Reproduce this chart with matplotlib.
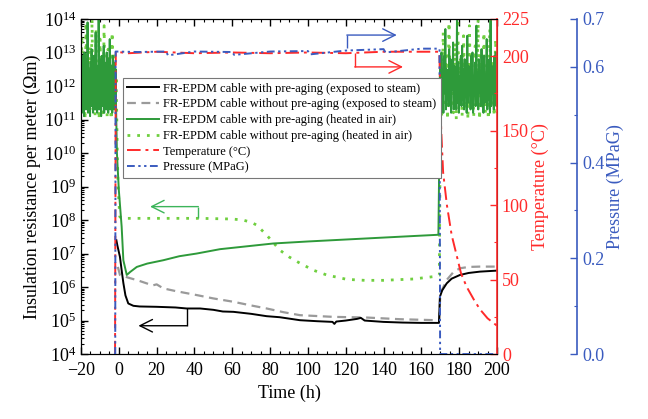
import numpy as np
import matplotlib
matplotlib.use("Agg")
import matplotlib.pyplot as plt
from matplotlib.ticker import LogLocator, LogFormatterMathtext, MultipleLocator, FixedLocator, NullFormatter, FuncFormatter
from matplotlib.lines import Line2D

plt.rcParams['font.family'] = ['Liberation Serif', 'DejaVu Serif']
plt.rcParams['mathtext.fontset'] = 'custom'
plt.rcParams['mathtext.rm'] = 'Liberation Serif'
plt.rcParams['mathtext.it'] = 'Liberation Serif:italic'

# ---------------- data ----------------
# noisy readings (log10 of resistance) while the cable sits outside the chamber
pre_solid_log = [11.8, 12.6, 11.2, 12.9, 11.5, 12.3, 11.1, 13.0, 11.7, 12.4, 11.3, 12.8, 11.6, 13.9,
                 11.2, 12.5, 11.9, 12.2, 11.1, 12.7, 11.4, 13.1, 11.6, 12.0, 11.2, 12.9, 11.8, 12.4,
                 11.3, 13.6, 11.5, 12.6, 11.2, 12.1, 11.7, 14.0, 11.3, 12.8, 11.6, 12.3, 11.1, 12.9,
                 11.4, 12.5, 11.8, 13.2, 11.2, 12.7, 11.5, 12.2, 11.3, 13.0, 11.7, 12.4, 11.2, 12.8,
                 11.6, 13.4, 11.3, 12.6, 11.4, 12.1, 11.2, 12.9, 11.6, 12.3, 11.3, 12.7, 11.5, 12.5]
post_solid_log = [11.9, 12.7, 11.4, 13.0, 11.6, 12.3, 11.2, 12.9, 11.8, 13.7, 11.3, 12.5, 11.7, 12.2,
                  11.4, 13.1, 11.5, 12.8, 11.2, 12.4, 11.9, 13.3, 11.3, 12.6, 11.6, 12.1, 11.3, 14.0,
                  11.5, 12.7, 11.2, 12.3, 11.8, 12.9, 11.4, 13.2, 11.6, 12.5, 11.3, 12.8, 11.7, 12.2,
                  11.2, 13.5, 11.5, 12.6, 11.9, 12.4, 11.3, 12.9, 11.6, 13.0, 11.2, 12.3, 11.7, 12.7,
                  11.4, 13.8, 11.5, 12.4, 11.3, 12.8, 11.8, 12.2, 11.4, 13.1, 11.6, 12.6, 11.2, 12.9,
                  11.5, 12.3, 11.7, 13.4, 11.3, 12.5, 11.6, 12.8, 11.2, 14.0, 11.4, 12.6, 11.8, 12.2,
                  11.3, 12.9, 11.5, 13.0, 11.4, 12.7]
pre_dotted_log = [12.2, 13.5, 11.4, 12.8, 11.0, 13.9, 11.6, 12.4, 11.2, 13.2, 11.8, 14.0, 11.3, 12.9,
                  11.1, 13.7, 11.5, 12.6, 11.0, 13.4, 11.7, 12.2, 11.2, 13.8, 11.4, 12.7, 11.1, 13.1,
                  11.6, 12.5, 11.0, 13.6, 11.3, 12.9, 11.5, 12.3]
post_dotted_log = [12.4, 11.1, 13.6, 11.5, 12.9, 11.0, 13.9, 11.4, 12.6, 11.2, 13.3, 11.0, 14.0, 11.6,
                   12.8, 11.1, 13.5, 11.3, 12.7, 11.0, 13.8, 11.5, 12.3, 11.1, 13.2, 11.4, 14.0, 11.0,
                   12.9, 11.3, 13.6, 11.2, 12.5, 11.0, 13.7, 11.4, 12.8, 11.1, 13.4, 11.2]

# FR-EPDM with pre-aging, heated in air (inside chamber)
air_aged_t = [-1.5, -1.0, -0.3, 0.0, 1.5, 2.4, 4.2, 6.0, 9.5, 15.0, 23.5, 32.0, 41.2, 53.5, 65.0,
              81.7, 100.0, 120.5, 140.0, 155.0, 166.3, 169.0, 169.3]
air_aged_log = [11.5, 10.0, 9.2, 8.9, 7.8, 6.8, 6.36, 6.45, 6.6, 6.7, 6.8, 6.92, 7.0, 7.13, 7.2,
                7.3, 7.36, 7.42, 7.48, 7.52, 7.55, 7.56, 9.0]

# FR-EPDM without pre-aging, heated in air (inside chamber)
air_new_t = [-1.2, -0.8, -0.4, 0.5, 1.5, 43.0, 60.0, 65.7, 70.0, 72.9, 78.2, 85.2, 90.0, 95.8,
             103.0, 109.9, 120.5, 130.0, 139.9, 155.7, 166.3, 169.5, 169.8]
air_new_log = [11.5, 10.0, 9.0, 8.1, 8.05, 8.05, 8.03, 8.0, 7.93, 7.85, 7.55, 7.1, 6.9, 6.71,
               6.5, 6.36, 6.23, 6.2, 6.2, 6.24, 6.31, 6.35, 9.0]

# FR-EPDM with pre-aging, exposed to steam
steam_aged_t = [-1.3, -0.8, 0.6, 1.5, 2.4, 3.5, 5.0, 7.7, 11.0, 20.0, 30.0, 35.9, 43.0, 50.0, 55.0,
                60.6, 70.0, 78.2, 85.0, 95.8, 105.0, 113.0, 114.0, 115.0, 120.0, 126.0, 128.0,
                130.0, 139.9, 150.0, 160.0, 169.3, 169.8, 171.0, 173.4, 176.0, 180.4, 185.0,
                191.0, 200.0]
steam_aged_log = [7.4, 7.25, 6.9, 6.5, 6.12, 5.75, 5.51, 5.44, 5.42, 5.41, 5.39, 5.36, 5.36, 5.32,
                  5.27, 5.26, 5.2, 5.13, 5.1, 5.01, 4.98, 4.96, 4.9, 4.97, 5.0, 5.05, 5.08, 5.0,
                  4.96, 4.94, 4.93, 4.93, 5.71, 5.9, 6.11, 6.25, 6.36, 6.42, 6.46, 6.49]

# FR-EPDM without pre-aging, exposed to steam
steam_new_t = [-0.5, 0.6, 5.0, 10.0, 14.7, 18.0, 20.0, 23.5, 30.0, 41.2, 50.0, 60.6, 70.0, 78.2,
               87.0, 95.8, 113.4, 131.0, 148.7, 168.0, 169.5, 170.0, 173.4, 177.0, 180.4, 185.0,
               191.0, 200.0]
steam_new_log = [6.6, 6.36, 6.28, 6.2, 6.11, 6.05, 6.08, 5.96, 5.88, 5.76, 5.66, 5.56, 5.45, 5.36,
                 5.25, 5.16, 5.11, 5.09, 5.04, 5.01, 5.01, 5.81, 6.21, 6.45, 6.56, 6.6, 6.61, 6.61]

# chamber temperature (degC)
temp_t = [-2.2, -2.0, -1.6, 5, 20, 40, 60, 80, 100, 120, 140, 160, 169.5, 170.0, 170.5, 171.5,
          173.5, 176.0, 178.7, 181.0, 184.0, 188.0, 191.0, 195.0, 200.0]
temp_c = [0, 0, 203, 202, 203, 202, 202.5, 202, 202.5, 202, 203, 203, 203, 175, 150, 122,
          100, 80, 66, 54, 45, 36, 30, 24, 19]

# chamber pressure (MPaG)
pres_t = [-2.3, -1.9, -1.7, 10, 25, 26, 40, 60, 61, 80, 100, 101, 120, 140, 141, 160, 169.6,
          169.9, 200]
pres_mpa = [0, 0, 0.632, 0.631, 0.632, 0.624, 0.632, 0.631, 0.625, 0.632, 0.633, 0.626, 0.634,
            0.637, 0.630, 0.638, 0.638, 0, 0]

x_ticks = [-20, 0, 20, 40, 60, 80, 100, 120, 140, 160, 180, 200]
temp_ticks = [0, 50, 100, 150, 200, 225]
pres_ticks = [0.0, 0.2, 0.4, 0.6, 0.7]

legend_labels = ["FR-EPDM cable with pre-aging (exposed to steam)",
                 "FR-EPDM cable without pre-aging (exposed to steam)",
                 "FR-EPDM cable with pre-aging (heated in air)",
                 "FR-EPDM cable without pre-aging (heated in air)",
                 "Temperature (\u00b0C)",
                 "Pressure (MPaG)"]

# ---------------- colours ----------------
c_black = "#000000"
c_gray = "#9a9a9a"
c_green = "#2e9a3a"
c_lgreen = "#6fcf3f"
c_red = "#ff2a2a"
c_blue = "#3a5bbf"

# ---------------- assemble series ----------------
pre_t_solid = np.linspace(-20, -1.6, len(pre_solid_log))
post_t_solid = np.linspace(169.6, 200, len(post_solid_log))
pre_t_dot = np.linspace(-20, -1.4, len(pre_dotted_log))
post_t_dot = np.linspace(170.0, 200, len(post_dotted_log))

g_solid_t = np.concatenate([pre_t_solid, air_aged_t, post_t_solid])
g_solid_y = 10.0 ** np.concatenate([pre_solid_log, air_aged_log, post_solid_log])
g_dot_t = np.concatenate([pre_t_dot, air_new_t, post_t_dot])
g_dot_y = 10.0 ** np.concatenate([pre_dotted_log, air_new_log, post_dotted_log])

# ---------------- figure ----------------
fig = plt.figure(figsize=(6.48, 4.19), dpi=100)
ax = fig.add_axes([0.125, 0.155, 0.642, 0.7997])
ax.set_yscale('log')
ax.set_xlim(-20, 200)
ax.set_ylim(1e4, 1e14)

ax.plot(g_dot_t, g_dot_y, color=c_lgreen, lw=2.0, linestyle=(0, (1, 2.5)), zorder=2)
ax.plot(g_solid_t, g_solid_y, color=c_green, lw=1.4, zorder=3)
ax.plot(steam_new_t, 10.0 ** np.array(steam_new_log), color=c_gray, lw=1.6,
        linestyle=(0, (4, 2.5)), zorder=4)
ax.plot(steam_aged_t, 10.0 ** np.array(steam_aged_log), color=c_black, lw=1.4, zorder=5)

ax.xaxis.set_major_locator(FixedLocator(x_ticks))
ax.xaxis.set_minor_locator(MultipleLocator(5))
ax.yaxis.set_major_locator(LogLocator(base=10, numticks=20))
ax.yaxis.set_minor_locator(LogLocator(base=10, subs=np.arange(2, 10), numticks=20))
ax.yaxis.set_minor_formatter(NullFormatter())
ax.yaxis.set_major_formatter(LogFormatterMathtext())
ax.tick_params(axis='both', which='both', direction='in', top=True, right=False,
               labelsize=13)
ax.tick_params(which='major', length=5, width=1)
ax.tick_params(which='minor', length=2.5, width=0.8)
ax.tick_params(axis='x', pad=6)
ax.set_xlabel("Time (h)", fontsize=13)
ax.set_ylabel("Insulation resistance per meter (\u03a9m)", fontsize=13, labelpad=2)

# temperature axis
ax2 = ax.twinx()
ax2.set_ylim(0, 225)
ax2.plot(temp_t, temp_c, color=c_red, lw=1.4, linestyle=(0, (7, 2.5, 1.5, 2.5)), zorder=6)
ax2.yaxis.set_major_locator(FixedLocator(temp_ticks))
ax2.yaxis.set_minor_locator(FixedLocator([25, 75, 125, 175]))
ax2.tick_params(axis='y', which='both', direction='in', colors=c_red, labelsize=13)
ax2.tick_params(axis='y', which='major', length=5, width=1)
ax2.tick_params(axis='y', which='minor', length=2.5, width=0.8)
ax2.spines['right'].set_color(c_red)
ax2.spines['right'].set_linewidth(1.2)
ax2.set_ylabel("Temperature (\u00b0C)", color=c_red, fontsize=13, labelpad=2)

# pressure axis, spine pushed 80 px to the right
ax3 = ax.twinx()
ax3.set_ylim(0, 0.7)
ax3.spines['right'].set_position(('outward', 57.6))
ax3.spines['right'].set_color(c_blue)
ax3.spines['right'].set_linewidth(1.2)
for s in ['top', 'left', 'bottom']:
    ax3.spines[s].set_visible(False)
ax3.plot(pres_t, pres_mpa, color=c_blue, lw=1.4,
         linestyle=(0, (4, 1.8, 1.2, 1.8, 1.2, 1.8)), zorder=7)
ax3.yaxis.set_major_locator(FixedLocator(pres_ticks))
ax3.yaxis.set_minor_locator(FixedLocator([0.1, 0.3, 0.5]))
ax3.yaxis.set_major_formatter(FuncFormatter(lambda v, p: f"{v:.1f}"))
ax3.tick_params(axis='y', which='both', direction='in', colors=c_blue, labelsize=13)
ax3.tick_params(axis='y', which='major', length=5, width=1)
ax3.tick_params(axis='y', which='minor', length=2.5, width=0.8)
ax3.set_ylabel("Pressure (MPaG)", color=c_blue, fontsize=13, labelpad=2)

# axis-pointer arrows
def pointer(axes, pts, color):
    xs = [p[0] for p in pts]
    ys = [p[1] for p in pts]
    axes.plot(xs[:-1], ys[:-1], color=color, lw=1.0, transform=axes.transAxes,
              solid_capstyle='butt', zorder=8)
    axes.annotate("", xy=pts[-1], xytext=pts[-2], xycoords='axes fraction',
                  textcoords='axes fraction',
                  arrowprops=dict(arrowstyle='->,head_length=0.9,head_width=0.45',
                                  color=color, lw=1.0, shrinkA=0, shrinkB=0), zorder=8)

pointer(ax3, [(0.639, 0.913), (0.639, 0.952), (0.759, 0.952)], c_blue)
pointer(ax3, [(0.658, 0.898), (0.658, 0.857), (0.774, 0.857)], c_red)
pointer(ax3, [(0.282, 0.406), (0.282, 0.440), (0.166, 0.440)], "#3cb45a")
pointer(ax3, [(0.254, 0.137), (0.254, 0.0845), (0.138, 0.0845)], c_black)

# legend
handles = [
    Line2D([], [], color=c_black, lw=1.4),
    Line2D([], [], color=c_gray, lw=1.6, linestyle=(0, (4, 2.5))),
    Line2D([], [], color=c_green, lw=1.4),
    Line2D([], [], color=c_lgreen, lw=2.0, linestyle=(0, (1, 2.5))),
    Line2D([], [], color=c_red, lw=1.4, linestyle=(0, (7, 2.5, 1.5, 2.5))),
    Line2D([], [], color=c_blue, lw=1.4, linestyle=(0, (4, 1.8, 1.2, 1.8, 1.2, 1.8))),
]
leg = ax3.legend(handles, legend_labels, loc='upper left', bbox_to_anchor=(0.100, 0.823),
                 bbox_transform=ax.transAxes, borderaxespad=0, fontsize=9,
                 frameon=True, fancybox=False, framealpha=1, edgecolor='#777777',
                 handlelength=2.6, handletextpad=0.3, labelspacing=0.3, borderpad=0.35)
leg.get_frame().set_linewidth(0.8)
leg.set_zorder(20)

fig.savefig("out.png", dpi=100)
